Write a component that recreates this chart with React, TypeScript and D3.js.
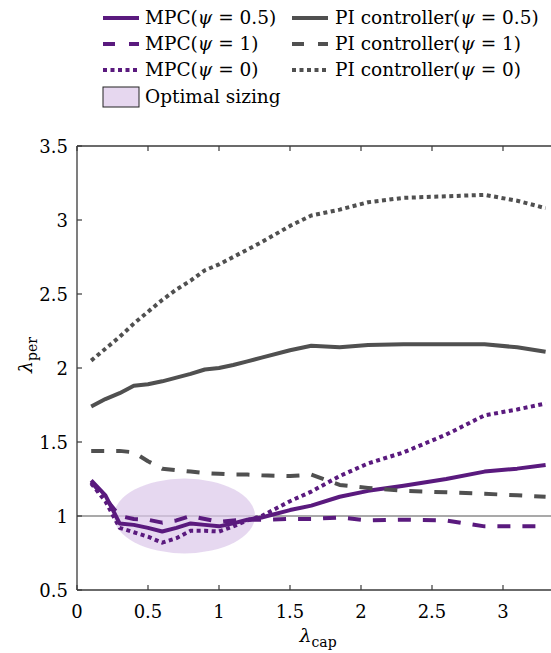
import React, { useEffect, useRef } from 'react';
import * as d3 from 'd3';

// lambda_cap grid shared by all runs
const capValues = [0.1, 0.2, 0.3, 0.4, 0.5, 0.6, 0.7, 0.8, 0.9, 1.0, 1.1, 1.2, 1.3, 1.5, 1.65, 1.85, 2.05, 2.3, 2.6, 2.87, 3.1, 3.3];

const mpcHalf = [1.24, 1.14, 0.95, 0.94, 0.92, 0.895, 0.92, 0.95, 0.94, 0.93, 0.95, 0.975, 0.99, 1.04, 1.07, 1.13, 1.17, 1.205, 1.25, 1.3, 1.32, 1.345];
const mpcOne = [1.23, 1.12, 1.0, 0.98, 0.975, 0.955, 0.97, 1.0, 0.98, 0.96, 0.97, 0.975, 0.975, 0.98, 0.98, 0.99, 0.97, 0.975, 0.97, 0.93, 0.93, 0.93];
const mpcZero = [1.22, 1.1, 0.92, 0.89, 0.86, 0.82, 0.85, 0.9, 0.9, 0.895, 0.93, 0.97, 1.0, 1.1, 1.165, 1.27, 1.355, 1.43, 1.55, 1.68, 1.72, 1.76];
const piHalf = [1.74, 1.79, 1.83, 1.88, 1.89, 1.91, 1.935, 1.96, 1.99, 2.0, 2.02, 2.045, 2.07, 2.12, 2.15, 2.14, 2.155, 2.16, 2.16, 2.16, 2.14, 2.11];
const piOne = [1.44, 1.44, 1.44, 1.43, 1.37, 1.32, 1.31, 1.3, 1.29, 1.285, 1.28, 1.28, 1.275, 1.27, 1.28, 1.21, 1.19, 1.17, 1.16, 1.15, 1.14, 1.13];
const piZero = [2.05, 2.13, 2.21, 2.3, 2.38, 2.46, 2.53, 2.59, 2.66, 2.7, 2.75, 2.8, 2.85, 2.96, 3.03, 3.07, 3.12, 3.15, 3.16, 3.17, 3.13, 3.08];

const xTicks = [0, 0.5, 1, 1.5, 2, 2.5, 3];
const yTicks = [0.5, 1, 1.5, 2, 2.5, 3, 3.5];

// optimal sizing region (center and half-axes, data units)
const optimalCenter = [0.757, 1.0];
const optimalRadius = [0.497, 0.253];

const PURPLE = '#5a1a7e';
const GRAY = '#505050';
const FONT = '"DejaVu Serif", serif';

const series = [
  { name: 'MPC', psi: '0.5', values: mpcHalf, color: PURPLE, dash: null },
  { name: 'MPC', psi: '1', values: mpcOne, color: PURPLE, dash: '13,12' },
  { name: 'MPC', psi: '0', values: mpcZero, color: PURPLE, dash: '4,3.5' },
  { name: 'PI controller', psi: '0.5', values: piHalf, color: GRAY, dash: null },
  { name: 'PI controller', psi: '1', values: piOne, color: GRAY, dash: '13,12' },
  { name: 'PI controller', psi: '0', values: piZero, color: GRAY, dash: '4,3.5' },
];

const App = () => {
  const svgRef = useRef(null);

  useEffect(() => {
    const svg = d3.select(svgRef.current);
    svg.selectAll('*').remove();

    const x = d3.scaleLinear().domain([0, 3.35]).range([77, 552.7]);
    const y = d3.scaleLinear().domain([0.5, 3.5]).range([590, 146]);

    // reference line at 1
    svg.append('line')
      .attr('x1', x(0)).attr('x2', x(3.35))
      .attr('y1', y(1)).attr('y2', y(1))
      .attr('stroke', '#555').attr('stroke-width', 1.2);

    // optimal sizing ellipse
    svg.append('ellipse')
      .attr('cx', x(optimalCenter[0]))
      .attr('cy', y(optimalCenter[1]))
      .attr('rx', x(optimalRadius[0]) - x(0))
      .attr('ry', y(0.5) - y(0.5 + optimalRadius[1]))
      .attr('fill', '#dcc8ea')
      .attr('fill-opacity', 0.7);

    const line = d3.line<number>()
      .x((d, i) => x(capValues[i]))
      .y(d => y(d));

    series.forEach(s => {
      svg.append('path')
        .datum(s.values)
        .attr('d', line)
        .attr('fill', 'none')
        .attr('stroke', s.color)
        .attr('stroke-width', 4)
        .attr('stroke-dasharray', s.dash)
        .attr('stroke-linejoin', 'round');
    });

    // axes (box with inward ticks)
    const axisColor = '#3a3a3a';
    svg.append('line')
      .attr('x1', x(0)).attr('x2', x(3.35)).attr('y1', 590).attr('y2', 590)
      .attr('stroke', axisColor).attr('stroke-width', 1.3);
    svg.append('line')
      .attr('x1', x(0)).attr('x2', x(3.35)).attr('y1', 146).attr('y2', 146)
      .attr('stroke', axisColor).attr('stroke-width', 1.3);
    svg.append('line')
      .attr('x1', x(0)).attr('x2', x(0)).attr('y1', 146).attr('y2', 590)
      .attr('stroke', axisColor).attr('stroke-width', 1.3);

    xTicks.forEach(t => {
      svg.append('line')
        .attr('x1', x(t)).attr('x2', x(t)).attr('y1', 590).attr('y2', 585)
        .attr('stroke', axisColor).attr('stroke-width', 1.2);
      svg.append('line')
        .attr('x1', x(t)).attr('x2', x(t)).attr('y1', 146).attr('y2', 151)
        .attr('stroke', axisColor).attr('stroke-width', 1.2);
      svg.append('text')
        .attr('x', x(t)).attr('y', 618)
        .attr('text-anchor', 'middle')
        .style('font-family', FONT).style('font-size', '18px')
        .text(t);
    });

    yTicks.forEach(t => {
      svg.append('line')
        .attr('x1', x(0)).attr('x2', x(0) + 5).attr('y1', y(t)).attr('y2', y(t))
        .attr('stroke', axisColor).attr('stroke-width', 1.2);
      svg.append('text')
        .attr('x', 68).attr('y', y(t) + 7)
        .attr('text-anchor', 'end')
        .style('font-family', FONT).style('font-size', '18px')
        .text(t);
    });

    // x label
    const xl = svg.append('text')
      .attr('x', 318).attr('y', 642)
      .attr('text-anchor', 'middle')
      .style('font-family', FONT).style('font-size', '19px');
    xl.append('tspan').style('font-style', 'italic').text('λ');
    xl.append('tspan').attr('dy', 5).style('font-size', '14px').text('cap');

    // y label
    const yl = svg.append('text')
      .attr('transform', 'translate(32,355) rotate(-90)')
      .attr('text-anchor', 'middle')
      .style('font-family', FONT).style('font-size', '19px');
    yl.append('tspan').style('font-style', 'italic').text('λ');
    yl.append('tspan').attr('dy', 5).style('font-size', '14px').text('per');

    // legend
    const rowY = [18, 44, 70];
    series.forEach((s, i) => {
      const col = i < 3 ? 0 : 1;
      const row = i % 3;
      const lx = col === 0 ? 103 : 292;
      const tx = col === 0 ? 145 : 335;
      const ly = rowY[row];
      svg.append('line')
        .attr('x1', lx).attr('x2', lx + 36).attr('y1', ly).attr('y2', ly)
        .attr('stroke', s.color).attr('stroke-width', 4)
        .attr('stroke-dasharray', s.dash === '13,12' ? '12,14' : s.dash);
      const t = svg.append('text')
        .attr('x', tx).attr('y', ly + 6)
        .style('font-family', FONT).style('font-size', '18.5px');
      t.append('tspan').text(s.name + '(');
      t.append('tspan').style('font-style', 'italic').text('ψ');
      t.append('tspan').text(' = ' + s.psi + ')');
    });
    svg.append('rect')
      .attr('x', 103).attr('y', 87).attr('width', 36).attr('height', 20)
      .attr('fill', '#e6d7ef').attr('stroke', '#222').attr('stroke-width', 1);
    svg.append('text')
      .attr('x', 145).attr('y', 103)
      .style('font-family', FONT).style('font-size', '18.5px')
      .text('Optimal sizing');
  }, []);

  return (
    <svg ref={svgRef} width={551} height={653}
      style={{ position: 'absolute', left: 0, top: 0, background: '#fff' }} />
  );
};

export default App;
